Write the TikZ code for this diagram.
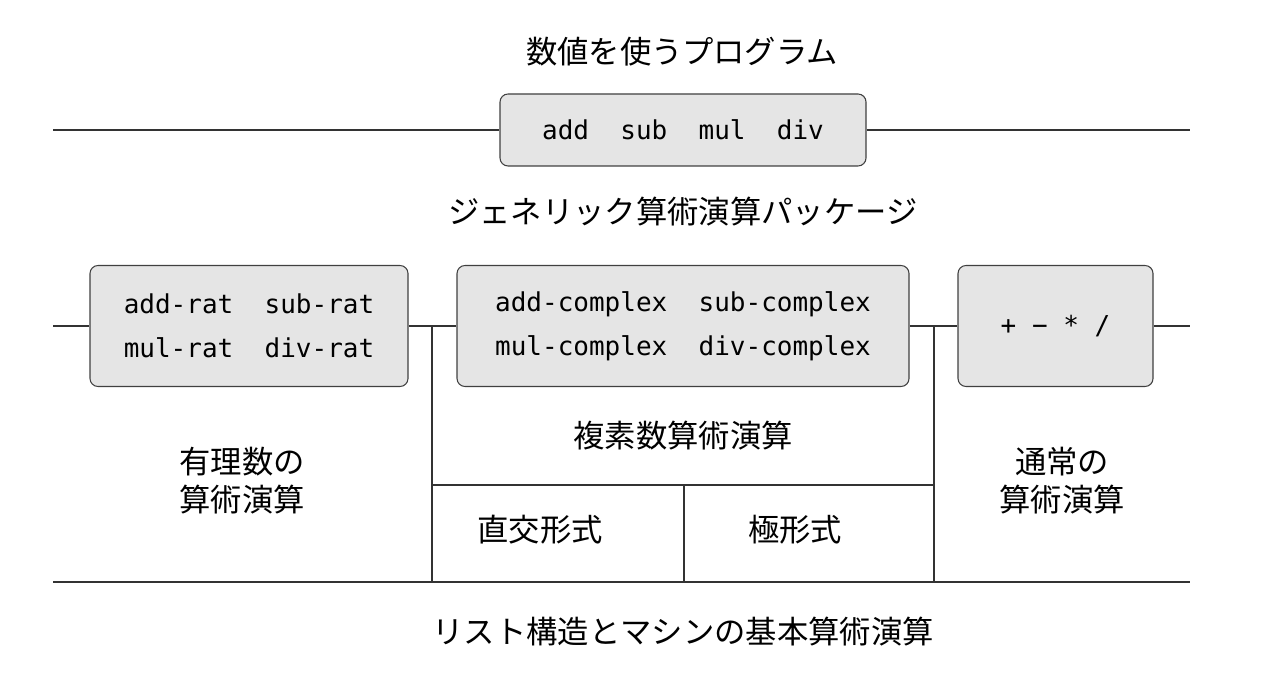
\documentclass[tikz,border=0pt]{standalone}
\usepackage{fontspec}
\setmonofont{DejaVu Sans Mono}
\newfontfamily\jafont{Noto Sans CJK JP}
\newcommand\monotext{\ttfamily\fontsize{19.5}{33}\selectfont}
\newcommand\jatext{\jafont\fontsize{23.5}{28.5}\selectfont}
\begin{document}
\begin{tikzpicture}[x=0.75pt,y=-0.75pt,
		box/.style={draw=black!75,fill=black!10,rounded corners=6pt,line width=0.8pt,inner sep=0pt,align=center,font=\monotext},
		jtext/.style={font=\jatext,align=center},
		wire/.style={draw=black!80,line width=0.8pt}]
	\useasboundingbox (0,0) rectangle (1280,680);
	% layer 1: program
	\node[jtext] (ttl) at (682,52) {数値を使うプログラム};
	\node[box,minimum width=274.5pt,minimum height=54pt] (prog) at (683,130) {add\ \ sub\ \ mul\ \ div};
	\coordinate (tl) at (53,130);
	\coordinate (tr) at (1190,130);
	\draw[wire] (tl) -- (prog.west);
	\draw[wire] (prog.east) -- (tr);
	% layer 2: generic package
	\node[jtext] (gen) at (683,212) {ジェネリック算術演算パッケージ};
	\node[box,minimum width=238.5pt,minimum height=90.75pt] (rat) at (249,326) {add-rat\ \ sub-rat\\mul-rat\ \ div-rat};
	\node[box,minimum width=339pt,minimum height=90.75pt] (cpx) at (683,326) {add-complex\ \ sub-complex\\mul-complex\ \ div-complex};
	\node[box,minimum width=146.25pt,minimum height=90.75pt] (ord) at (1055.5,326) {+ − * /};
	\coordinate (ml) at (53,326);
	\coordinate (mr) at (1190,326);
	\draw[wire] (ml) -- (rat.west);
	\draw[wire] (rat.east) -- (cpx.west);
	\draw[wire] (cpx.east) -- (ord.west);
	\draw[wire] (ord.east) -- (mr);
	% layer 3: the packages
	\coordinate (ja) at (432,326);
	\coordinate (jb) at (934,326);
	\coordinate (ka) at (432,485);
	\coordinate (kb) at (934,485);
	\coordinate (kc) at (684,485);
	\coordinate (bl) at (53,582);
	\coordinate (br) at (1190,582);
	\coordinate (ba) at (432,582);
	\coordinate (bb) at (934,582);
	\coordinate (bc) at (684,582);
	\draw[wire] (ja) -- (ba);
	\draw[wire] (jb) -- (bb);
	\draw[wire] (ka) -- (kb);
	\draw[wire] (kc) -- (bc);
	\draw[wire] (bl) -- (br);
	\node[jtext] (ratl) at (242,481) {有理数の\\算術演算};
	\node[jtext] (cpxl) at (683,436) {複素数算術演算};
	\node[jtext] (ordl) at (1062,481) {通常の\\算術演算};
	\node[jtext] (rect) at (540,530) {直交形式};
	\node[jtext] (polr) at (795,530) {極形式};
	% layer 4: machine
	\node[jtext] (mach) at (683,632) {リスト構造とマシンの基本算術演算};
\end{tikzpicture}
\end{document}
